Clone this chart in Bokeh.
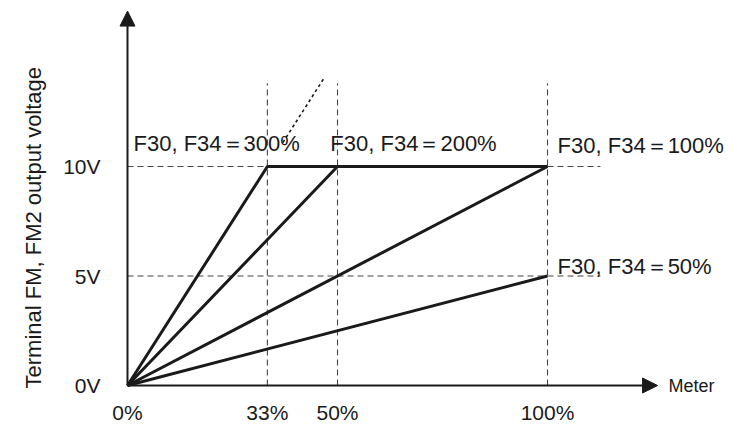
from bokeh.plotting import figure
from bokeh.models import Range1d, FixedTicker, Arrow, NormalHead, Label, Title
from bokeh.embed import file_html
from bokeh.resources import INLINE

# ---- data ----
gains = ["300%", "200%", "100%", "50%"]
line_x = [[0, 33.3, 100], [0, 50, 100], [0, 100], [0, 100]]
line_y = [[0, 10, 10], [0, 10, 10], [0, 10], [0, 5]]
x_ticks = [0, 33.3, 50, 100]
x_tick_labels = ["0%", "33%", "50%", "100%"]
y_ticks = [0, 5, 10]
y_tick_labels = ["0V", "5V", "10V"]
ext_x = [37, 47]          # dashed extension of the 300% line
ext_gain = 300

FONT = "Liberation Sans"
INK = "#1a1a1a"

p = figure(frame_width=617, frame_height=395, output_backend="svg",
           toolbar_location=None,
           x_range=Range1d(-2.381, 144.52), y_range=Range1d(-0.639, 17.40),
           min_border_left=117, min_border_right=0, min_border_top=4,
           min_border_bottom=36)
p.outline_line_color = None
p.grid.visible = False

# axes (tick labels only)
p.xaxis.ticker = FixedTicker(ticks=x_ticks)
p.xaxis.major_label_overrides = {t: s for t, s in zip(x_ticks, x_tick_labels)}
p.yaxis.ticker = FixedTicker(ticks=y_ticks)
p.yaxis.major_label_overrides = {t: s for t, s in zip(y_ticks, y_tick_labels)}
for ax in (p.xaxis, p.yaxis):
    ax.axis_line_color = None
    ax.major_tick_line_color = None
    ax.minor_tick_line_color = None
    ax.major_tick_out = 0
    ax.major_tick_in = 0
    ax.major_label_text_font = FONT
    ax.major_label_text_font_size = "21px"
    ax.major_label_text_color = INK
p.xaxis.major_label_standoff = 1
p.yaxis.major_label_standoff = 17
p.yaxis.major_label_orientation = "horizontal"

# y-axis title (vertical, starting near the bottom like the reference)
p.add_layout(Title(text="Terminal FM, FM2 output voltage", text_font=FONT,
                   text_font_size="22px", text_font_style="normal",
                   text_color=INK, align="left", offset=11, standoff=30),
             "left")

# guide dashed lines
GUIDE_TOP = 13.8
GUIDE_RIGHT = 112.6
vx = [t for t in x_ticks if t > 0]
p.segment(x0=vx, y0=[0] * len(vx), x1=vx, y1=[GUIDE_TOP] * len(vx),
          line_color="#444444", line_width=1.1, line_dash="6 4")
hy = [t for t in y_ticks if t > 0]
p.segment(x0=[0] * len(hy), y0=hy, x1=[GUIDE_RIGHT] * len(hy), y1=hy,
          line_color="#444444", line_width=1.1, line_dash="6 4")

# dashed extension of the steepest line
p.line(x=ext_x, y=[ext_gain / 1000 * v for v in ext_x],
       line_color=INK, line_width=1.6, line_dash="3 3")

# characteristic lines
p.multi_line(xs=line_x, ys=line_y, line_color=INK, line_width=3)

# axis lines with arrow heads
p.add_layout(Arrow(x_start=0, y_start=0, x_end=126.2, y_end=0, line_width=2,
                   line_color=INK,
                   end=NormalHead(size=15, fill_color=INK, line_color=INK)))
p.add_layout(Arrow(x_start=0, y_start=0, x_end=0, y_end=17.1, line_width=2,
                   line_color=INK,
                   end=NormalHead(size=15, fill_color=INK, line_color=INK)))

p.add_layout(Label(x=128.8, y=0, text="Meter", text_font=FONT,
                   text_font_size="18px", text_baseline="middle",
                   text_color=INK))

# curve labels
label_pos = [(1.43, 11.05), (48.3, 11.05), (102.4, 10.96), (102.4, 5.43)]
for g, (lx, ly) in zip(gains, label_pos):
    p.add_layout(Label(x=lx, y=ly, text="F30, F34\uff1d" + g, text_font=FONT,
                       text_font_size="22px", text_baseline="middle",
                       text_color=INK))

open("out.html", "w").write(file_html(p, INLINE))
